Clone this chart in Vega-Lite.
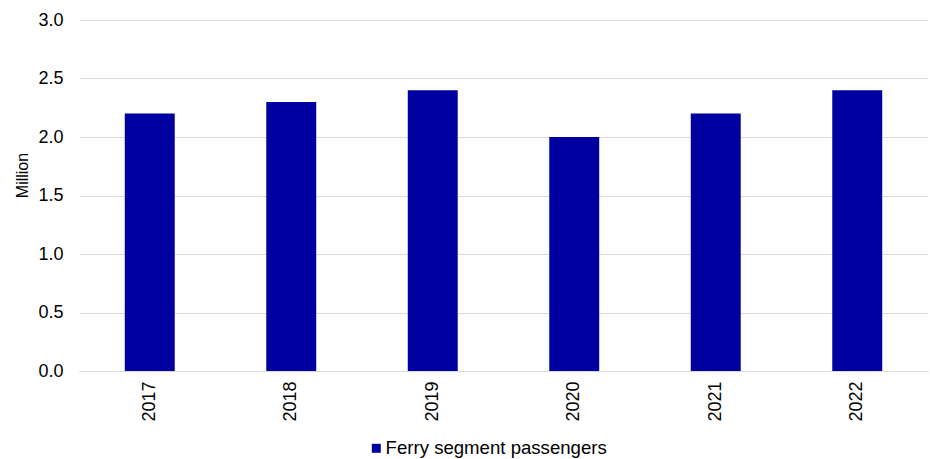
{
  "$schema": "https://vega.github.io/schema/vega-lite/v6.json",
  "width": 849,
  "height": 351,
  "autosize": {"type": "none"},
  "padding": {"left": 79, "top": 20, "right": 2, "bottom": 88},
  "background": "white",
  "config": {
    "font": "Liberation Sans",
    "view": {"stroke": null},
    "axis": {"labelFont": "Liberation Sans", "titleFont": "Liberation Sans"}
  },
  "data": {
    "values": [
      {"year": "2017", "passengers": 2.2, "series": "Ferry segment passengers"},
      {"year": "2018", "passengers": 2.3, "series": "Ferry segment passengers"},
      {"year": "2019", "passengers": 2.4, "series": "Ferry segment passengers"},
      {"year": "2020", "passengers": 2.0, "series": "Ferry segment passengers"},
      {"year": "2021", "passengers": 2.2, "series": "Ferry segment passengers"},
      {"year": "2022", "passengers": 2.4, "series": "Ferry segment passengers"}
    ]
  },
  "mark": {"type": "bar"},
  "encoding": {
    "x": {
      "field": "year",
      "type": "ordinal",
      "scale": {"paddingInner": 0.647, "paddingOuter": 0.3235},
      "axis": {
        "title": null,
        "labelAngle": 270,
        "labelFontSize": 18,
        "labelColor": "#000000",
        "labelPadding": 10,
        "ticks": false,
        "domainColor": "#d9d9d9",
        "domainWidth": 1
      }
    },
    "y": {
      "field": "passengers",
      "type": "quantitative",
      "scale": {"domain": [0, 3]},
      "axis": {
        "title": "Million",
        "titleFontSize": 16,
        "titleFontWeight": "normal",
        "titleColor": "#000000",
        "titleAngle": 270,
        "titleAlign": "center",
        "titleBaseline": "middle",
        "titleX": -57,
        "titleY": 155,
        "values": [0, 0.5, 1, 1.5, 2, 2.5, 3],
        "format": ".1f",
        "labelFontSize": 18,
        "labelColor": "#000000",
        "labelPadding": 16,
        "ticks": false,
        "domain": false,
        "gridColor": "#d9d9d9",
        "gridWidth": 1
      }
    },
    "color": {
      "field": "series",
      "type": "nominal",
      "scale": {"range": ["#0000a0"]},
      "legend": {
        "title": null,
        "orient": "none",
        "legendX": 288,
        "legendY": 419,
        "padding": 0,
        "symbolType": "square",
        "symbolSize": 81,
        "labelFontSize": 18.6,
        "labelLimit": 0,
        "labelColor": "#000000",
        "labelOffset": 0
      }
    }
  }
}
